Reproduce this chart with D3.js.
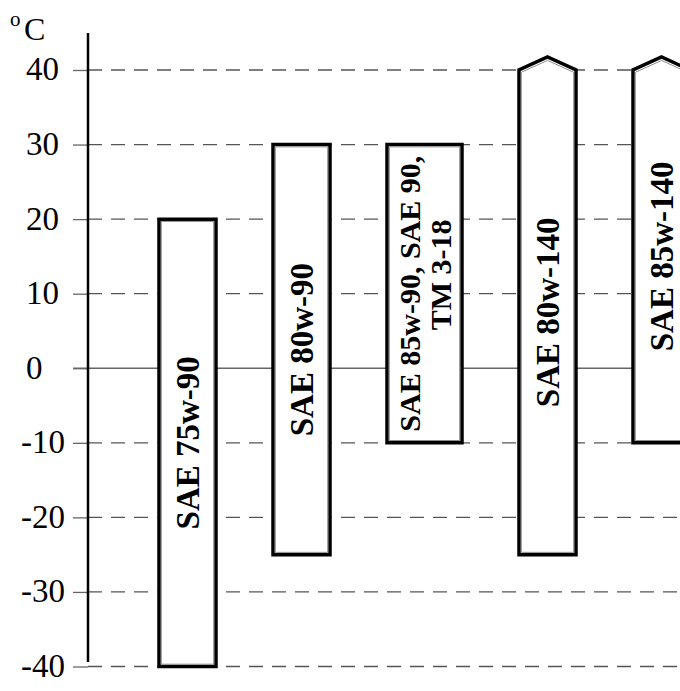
<!doctype html>
<html lang="en">
<head>
<meta charset="utf-8">
<title>Gear oil temperature ranges</title>
<script src="https://d3js.org/d3.v7.min.js"></script>
<style>
  body { margin: 0; background: #fff; }
  svg { display: block; font-family: "Liberation Serif", "Times New Roman", serif; }
</style>
</head>
<body>
<div id="chart"></div>
<script>
// oil grades and the ambient temperature range (°C) each one covers
const grades = ["SAE 75w-90", "SAE 80w-90", "SAE 85w-90, SAE 90, TM 3-18", "SAE 80w-140", "SAE 85w-140"];
const labelLines = [["SAE 75w-90"], ["SAE 80w-90"], ["SAE 85w-90, SAE 90,", "\u00a0\u00a0\u00a0\u00a0\u00a0TM 3-18"], ["SAE 80w-140"], ["SAE 85w-140"]];
const minTemp = [-40, -25, -10, -25, -10];
const maxTemp = [20, 30, 30, 40, 40];
const openTop = [false, false, false, true, true]; // range goes on above +40
const yTicks = [40, 30, 20, 10, 0, -10, -20, -30, -40];

const width = 680, height = 691;
const axisX = 88;

const svg = d3.select("#chart").append("svg")
    .attr("width", width)
    .attr("height", height)
    .attr("viewBox", [0, 0, width, height]);

// bars sit side by side with a fixed gap; two-line labels get a wider bar
const barW = i => labelLines[i].length > 1 ? 75 : 57;
const gap = 57;
const idx = d3.range(grades.length);
const offsets = [0, ...d3.cumsum(idx, i => barW(i) + gap)];
const x = d3.scaleLinear([0, 1], [159, 160]);   // layout units are pixels, shifted to the first bar
const barX0 = i => x(offsets[i]);
const barCx = i => barX0(i) + barW(i) / 2;

const y = d3.scaleLinear([-40, 40], [666.5, 70]);

// grid lines (dashed), zero line solid
svg.append("g")
  .selectAll("line")
  .data(yTicks)
  .join("line")
    .attr("x1", d => d === 0 ? 73 : axisX)
    .attr("x2", width)
    .attr("y1", d => y(d))
    .attr("y2", d => y(d))
    .attr("stroke", d => d === 0 ? "#666" : "#555")
    .attr("stroke-width", 1.3)
    .attr("stroke-dasharray", d => d === 0 ? null : "14,9");

// y axis: ticks + labels
svg.append("g")
    .attr("transform", `translate(${axisX},0)`)
    .call(d3.axisLeft(y).tickValues(yTicks).tickSize(15).tickSizeOuter(0).tickFormat(d => String(d)))
    .call(g => g.select(".domain").remove())
    .call(g => g.selectAll(".tick line").attr("stroke", "#666").attr("stroke-width", 1.3))
    .call(g => g.selectAll(".tick text")
        .attr("font-family", "Liberation Serif, Times New Roman, serif")
        .attr("font-size", 33)
        .attr("fill", "#000")
        .attr("text-anchor", "start")
        .attr("x", d => d < 0 ? 21 - axisX : 26 - axisX)
        .attr("dy", "0.3em"));

svg.append("line")
    .attr("x1", axisX).attr("x2", axisX)
    .attr("y1", 33).attr("y2", 662)
    .attr("stroke", "#000")
    .attr("stroke-width", 2.5);

// unit label
svg.append("text").attr("x", 10).attr("y", 26).attr("font-size", 21).text("o");
svg.append("text").attr("x", 24).attr("y", 40).attr("font-size", 32).text("C");

// bars
const peak = 13;
function barPath(i, inset) {
  const cx = barCx(i);
  const x0 = barX0(i) + inset, x1 = barX0(i) + barW(i) - inset;
  const yb = y(minTemp[i]) - inset, yt = y(maxTemp[i]) + inset;
  const p = d3.path();
  p.moveTo(x0, yb);
  p.lineTo(x0, yt);
  if (openTop[i]) p.lineTo(cx, yt - peak + inset * 0.5);
  p.lineTo(x1, yt);
  p.lineTo(x1, yb);
  p.closePath();
  return p.toString();
}

svg.append("g")
  .selectAll("path")
  .data(idx)
  .join("path")
    .attr("d", i => barPath(i, 0))
    .attr("fill", "#fff")
    .attr("stroke", "#000")
    .attr("stroke-width", 3.5)
    .attr("stroke-linejoin", "miter");

svg.append("g")
  .selectAll("path")
  .data(idx)
  .join("path")
    .attr("d", i => barPath(i, 2.3))
    .attr("fill", "none")
    .attr("stroke", "#8c8c8c")
    .attr("stroke-width", 1);

// labels, rotated to read bottom to top
const label = svg.append("g")
    .attr("font-weight", "bold")
    .attr("text-anchor", "middle")
  .selectAll("text")
  .data(idx)
  .join("text")
    .attr("font-size", i => labelLines[i].length > 1 ? 30 : 33)
    .attr("transform", i => {
      const cy = (y(minTemp[i]) + y(maxTemp[i])) / 2;
      return `translate(${barCx(i)},${cy}) rotate(-90)`;
    });

label.selectAll("tspan")
  .data(i => labelLines[i].map((t, k) => ({t, k, n: labelLines[i].length})))
  .join("tspan")
    .attr("x", 0)
    .attr("y", d => (d.k - (d.n - 1) / 2) * 31)
    .attr("dy", "0.35em")
    .text(d => d.t);
</script>
</body>
</html>
